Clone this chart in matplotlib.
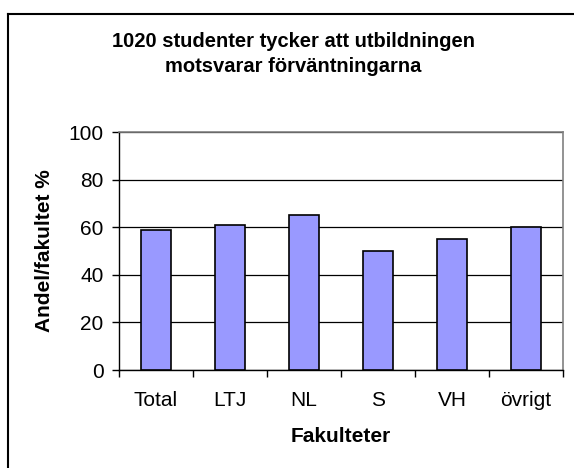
import matplotlib.pyplot as plt
from matplotlib.lines import Line2D

categories = ["Total", "LTJ", "NL", "S", "VH", "övrigt"]
values = [59, 61, 65, 50, 55, 60]
yticks = [0, 20, 40, 60, 80, 100]

plt.rcParams["font.family"] = ["Liberation Sans", "DejaVu Sans"]

W, H = 574, 468
fig = plt.figure(figsize=(W / 100, H / 100), dpi=100)
ax = fig.add_axes([119 / W, 1 - 370 / H, 444 / W, 238 / H])

x = list(range(len(categories)))
ax.bar(x, values, width=0.4, color="#9999ff", edgecolor="black", linewidth=1.2, zorder=3)

ax.set_xlim(-0.5, len(categories) - 0.5)
ax.set_ylim(0, 100)
ax.set_yticks(yticks)
ax.set_yticklabels([str(t) for t in yticks], fontsize=15)
ax.yaxis.grid(True, color="black", linewidth=0.9, zorder=0)
ax.set_axisbelow(True)

# category labels centred under bars, tick marks between categories
ax.set_xticks(x)
ax.set_xticklabels(categories, fontsize=15)
ax.tick_params(axis="x", length=0, pad=15)
ax.set_xticks([i - 0.5 for i in range(len(categories) + 1)], minor=True)
ax.tick_params(axis="x", which="minor", length=5, width=1, direction="out")
ax.tick_params(axis="y", length=5, width=1, direction="out", pad=6)

for side in ("top", "right"):
    ax.spines[side].set_color("#808080")
    ax.spines[side].set_linewidth(1.2)
for side in ("left", "bottom"):
    ax.spines[side].set_color("black")
    ax.spines[side].set_linewidth(1)

ax.set_xlabel("Fakulteter", fontsize=15, fontweight="bold")
ax.xaxis.set_label_coords(0.5, -(437 - 370) / 238, transform=ax.transAxes)
ax.set_ylabel("Andel/fakultet %", fontsize=15, fontweight="bold")
ax.yaxis.set_label_coords(-(119 - 45) / 444, 0.5, transform=ax.transAxes)
ax.xaxis.label.set_va("center")
ax.yaxis.label.set_va("center")

fig.text(293 / W, 1 - 54 / H, "1020 studenter tycker att utbildningen\nmotsvarar förväntningarna",
         ha="center", va="center", fontsize=14.5, fontweight="bold", linespacing=1.4)

# outer chart frame (only left and top edges are visible)
fig.add_artist(Line2D([8 / W, 8 / W], [0, 1 - 14 / H], color="black", linewidth=1.5,
                      transform=fig.transFigure))
fig.add_artist(Line2D([8 / W, 1], [1 - 14 / H, 1 - 14 / H], color="black", linewidth=1.5,
                      transform=fig.transFigure))

fig.savefig("out.png", dpi=100)
